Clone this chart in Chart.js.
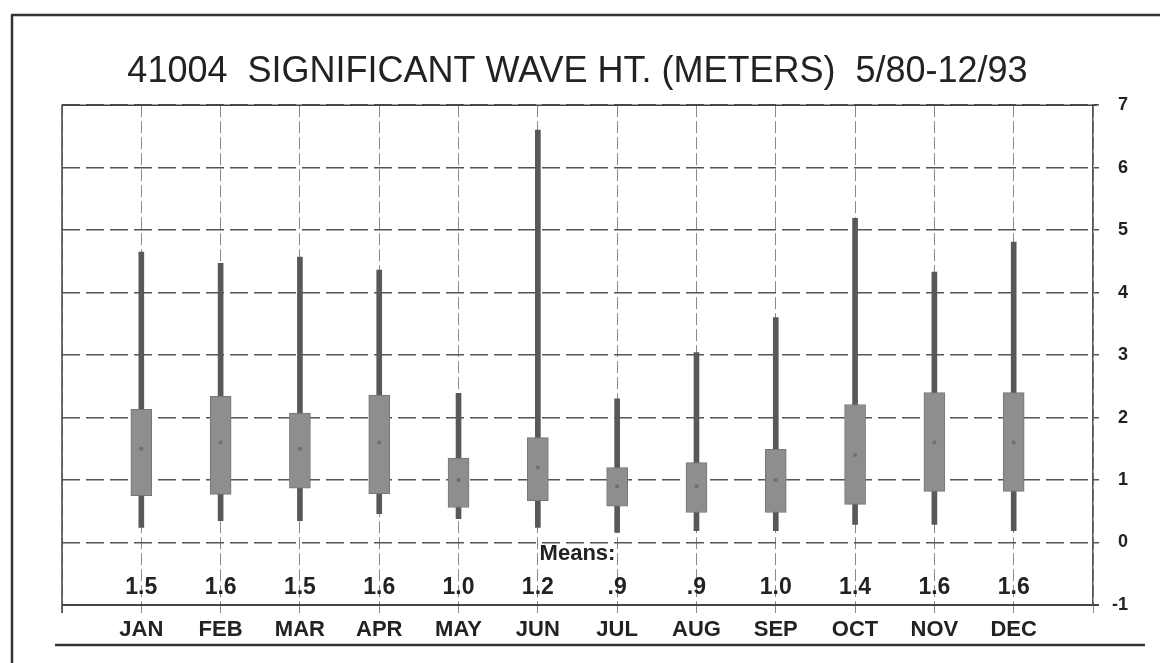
<!DOCTYPE html>
<html>
<head>
<meta charset="utf-8">
<script src="https://cdn.jsdelivr.net/npm/chart.js@4.4.1/dist/chart.umd.min.js"></script>
<style>
  html, body { margin: 0; padding: 0; background: #ffffff; }
  #wrap { width: 1160px; height: 663px; }
</style>
</head>
<body>
<div id="wrap"><canvas id="c" width="1160" height="663"></canvas></div>
<script>
const MONTHS = ['JAN','FEB','MAR','APR','MAY','JUN','JUL','AUG','SEP','OCT','NOV','DEC'];
const MAX    = [4.65, 4.47, 4.57, 4.36, 2.39, 6.60, 2.30, 3.04, 3.60, 5.19, 4.33, 4.81];
const BOX_HI = [2.13, 2.34, 2.07, 2.36, 1.35, 1.68, 1.20, 1.28, 1.49, 2.21, 2.40, 2.40];
const BOX_LO = [0.75, 0.77, 0.87, 0.78, 0.56, 0.67, 0.58, 0.48, 0.48, 0.61, 0.82, 0.82];
const MIN    = [0.24, 0.35, 0.35, 0.46, 0.38, 0.24, 0.16, 0.19, 0.19, 0.29, 0.29, 0.19];
const MEAN   = [1.5, 1.6, 1.5, 1.6, 1.0, 1.2, 0.9, 0.9, 1.0, 1.4, 1.6, 1.6];
const MEAN_LABELS = ['1.5','1.6','1.5','1.6','1.0','1.2','.9','.9','1.0','1.4','1.6','1.6'];
const Y_TICKS = [-1, 0, 1, 2, 3, 4, 5, 6, 7];
const TITLE = '41004  SIGNIFICANT WAVE HT. (METERS)  5/80-12/93';
const MEANS_CAPTION = 'Means:';

const FONT = "'Liberation Sans', Arial, sans-serif";

const whiskerData = MONTHS.map((m, i) => ({ x: i + 1, y: [MIN[i], MAX[i]] }));
const boxData = MONTHS.map((m, i) => ({ x: i + 1, y: [BOX_LO[i], BOX_HI[i]] }));
const meanData = MONTHS.map((m, i) => ({ x: i + 1, y: MEAN[i] }));

const framePlugin = {
  id: 'frame',
  beforeDraw(chart) {
    const ctx = chart.ctx;
    ctx.save();
    ctx.fillStyle = '#ffffff';
    ctx.fillRect(0, 0, chart.width, chart.height);
    ctx.strokeStyle = '#333333';
    ctx.lineWidth = 2.5;
    ctx.beginPath();
    ctx.moveTo(11, 15); ctx.lineTo(1160, 15);
    ctx.moveTo(12, 15); ctx.lineTo(12, 663);
    ctx.stroke();
    ctx.beginPath();
    ctx.moveTo(55, 645); ctx.lineTo(1145, 645);
    ctx.stroke();
    ctx.restore();
  },
  afterDraw(chart) {
    const ctx = chart.ctx;
    const a = chart.chartArea;
    ctx.save();
    ctx.strokeStyle = '#444444';
    ctx.lineWidth = 1.5;
    ctx.beginPath();
    ctx.moveTo(a.left, a.bottom + 8); ctx.lineTo(a.left, a.top); ctx.lineTo(a.right + 4, a.top);
    ctx.stroke();
    ctx.lineWidth = 2;
    ctx.beginPath();
    ctx.moveTo(a.left, a.bottom); ctx.lineTo(a.right + 6, a.bottom);
    ctx.stroke();
    ctx.restore();
  }
};

const meansTextPlugin = {
  id: 'meansText',
  afterDatasetsDraw(chart) {
    const ctx = chart.ctx;
    const xs = chart.scales.x, ys = chart.scales.y;
    ctx.save();
    ctx.fillStyle = '#222222';
    ctx.textAlign = 'center';
    ctx.textBaseline = 'middle';
    ctx.font = 'bold 22px ' + FONT;
    ctx.fillText(MEANS_CAPTION, xs.getPixelForValue(6.5), ys.getPixelForValue(-0.18));
    ctx.font = 'bold 23px ' + FONT;
    MEAN_LABELS.forEach((t, i) => {
      ctx.fillText(t, xs.getPixelForValue(i + 1), ys.getPixelForValue(-0.72));
    });
    ctx.restore();
  }
};

new Chart(document.getElementById('c'), {
  type: 'bar',
  data: {
    datasets: [
      {
        type: 'scatter',
        label: 'Mean',
        data: meanData,
        pointStyle: 'rect',
        radius: 2.5,
        backgroundColor: '#6e6e6e',
        borderColor: '#6e6e6e',
        borderWidth: 0,
        order: 0
      },
      {
        label: 'Box',
        data: boxData,
        barThickness: 21,
        backgroundColor: '#8e8e8e',
        borderColor: '#767676',
        borderWidth: 1,
        borderSkipped: false,
        grouped: false,
        order: 1
      },
      {
        label: 'Range',
        data: whiskerData,
        barThickness: 5,
        backgroundColor: '#585858',
        borderWidth: 0,
        grouped: false,
        order: 2
      }
    ]
  },
  options: {
    responsive: false,
    animation: false,
    devicePixelRatio: 1,
    layout: { padding: { left: 62, right: 32, top: 0, bottom: 0 } },
    plugins: {
      legend: { display: false },
      tooltip: { enabled: false },
      title: {
        display: true,
        fullSize: false,
        text: TITLE,
        color: '#222222',
        font: { family: FONT, size: 36, weight: 'normal', lineHeight: 1.2 },
        padding: { top: 50, bottom: 12 }
      }
    },
    scales: {
      x: {
        type: 'linear',
        offset: false,
        min: 0,
        max: 13,
        afterFit(s) { s.height = 58; },
        afterBuildTicks(s) { s.ticks = Array.from({ length: 14 }, (_, i) => ({ value: i })); },
        ticks: {
          autoSkip: false,
          maxRotation: 0,
          padding: 4,
          color: '#222222',
          font: { family: FONT, size: 22, weight: 'bold' },
          callback: (v) => MONTHS[v - 1] || ''
        },
        grid: {
          offset: false,
          color: '#8a8a8a',
          lineWidth: 1,
          tickLength: 8,
          drawTicks: true
        },
        border: { display: false, dash: [12, 4] }
      },
      y: {
        type: 'linear',
        position: 'right',
        min: -1,
        max: 7,
        afterFit(s) { s.width = 35; },
        afterBuildTicks(s) { s.ticks = Y_TICKS.map(v => ({ value: v })); },
        ticks: {
          crossAlign: 'far',
          padding: 12,
          color: '#222222',
          font: { family: FONT, size: 18, weight: 'bold' },
          callback: (v) => String(v)
        },
        grid: {
          color: '#555555',
          lineWidth: 1.5,
          tickLength: 6
        },
        border: { display: true, color: '#555555', width: 1.5, dash: [18, 6] }
      }
    }
  },
  plugins: [framePlugin, meansTextPlugin]
});
</script>
</body>
</html>
